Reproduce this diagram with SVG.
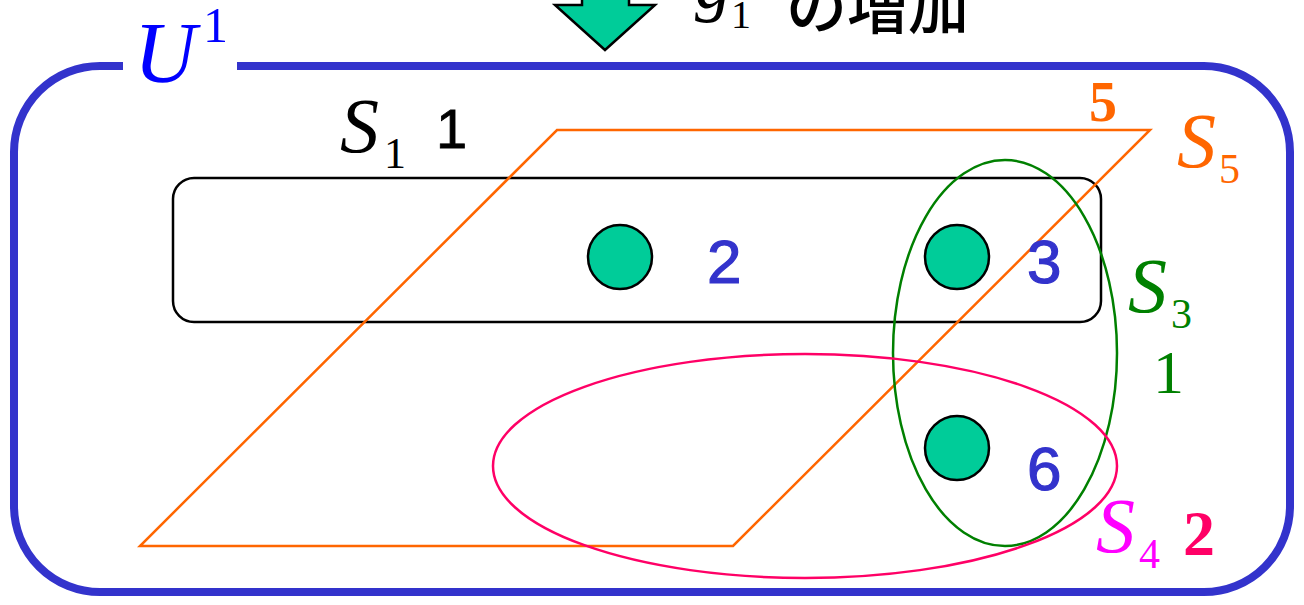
<svg xmlns="http://www.w3.org/2000/svg" width="1304" height="605" viewBox="0 0 1304 605">
<style>
.m{font-family:"Liberation Serif","DejaVu Serif",serif;font-style:italic}
.r{font-family:"Liberation Serif","DejaVu Serif",serif}
.s{font-family:"Liberation Sans",Arial,sans-serif}
.dot{fill:#00cc99;stroke:#000;stroke-width:2.5}
.num{font-family:"Liberation Sans",Arial,sans-serif;font-size:62px;fill:#3333cc;stroke:#3333cc;stroke-width:1.2}
</style>
<rect width="1304" height="605" fill="#fff"/>
<g id="arrow">
<polygon points="582,-5 629,-5 629,5 655,5 605,50 555,5 582,5" fill="#00cc99" stroke="#000" stroke-width="2.5"/>
</g>
<g id="title">
<text class="m" x="695" y="8" font-size="72">g</text>
<text class="r" x="731" y="28" font-size="40">1</text>
<text x="786" y="29" font-size="61" font-weight="500" font-family="'Noto Sans CJK JP','Noto Sans CJK SC',sans-serif" fill="#000">の増加</text>
</g>
<g id="U">
<path d="M123,66 H100 A86,86 0 0 0 14,152 V506 A86,86 0 0 0 100,592 H1204 A86,86 0 0 0 1290,506 V152 A86,86 0 0 0 1204,66 H237" fill="none" stroke="#3333cc" stroke-width="8"/>
<text class="m" x="134" y="82" font-size="86" fill="#0000ff">U</text>
<text class="r" x="203" y="42" font-size="50" fill="#0000ff">1</text>
</g>
<g id="S1">
<rect x="173" y="178" width="928" height="144" rx="21" fill="none" stroke="#000" stroke-width="2.5"/>
<text class="m" x="340" y="152" font-size="78" fill="#000">S</text>
<text class="r" x="384" y="168" font-size="44" fill="#000">1</text>
<text class="s" x="436" y="148" font-size="56" fill="#000" stroke="#000" stroke-width="0.8">1</text>
</g>
<g id="S5">
<polygon points="557,130 1150,130 733,546 140,546" fill="none" stroke="#ff6600" stroke-width="2.5"/>
<text class="r" x="1089" y="121" font-size="56" font-weight="bold" fill="#ff6600">5</text>
<text class="m" x="1177" y="167" font-size="78" fill="#ff6600">S</text>
<text class="r" x="1219" y="183" font-size="42" fill="#ff6600">5</text>
</g>
<g id="S3">
<ellipse cx="1005" cy="353" rx="112" ry="193" fill="none" stroke="#008000" stroke-width="2.5"/>
<text class="m" x="1128" y="312" font-size="78" fill="#008000">S</text>
<text class="r" x="1171" y="328" font-size="42" fill="#008000">3</text>
<text class="r" x="1153" y="393" font-size="62" fill="#008000">1</text>
</g>
<g id="S4">
<ellipse cx="805" cy="466" rx="312" ry="112" fill="none" stroke="#ff0066" stroke-width="2.5"/>
<text class="m" x="1096" y="552" font-size="78" fill="#ff00ff">S</text>
<text class="r" x="1139" y="568" font-size="42" fill="#ff00ff">4</text>
<text class="r" x="1183" y="555" font-size="64" font-weight="bold" fill="#ff0066">2</text>
</g>
<g id="n2">
<circle class="dot" cx="620" cy="257" r="32"/>
<text class="num" x="707" y="283">2</text>
</g>
<g id="n3">
<circle class="dot" cx="957" cy="257" r="32"/>
<text class="num" x="1027" y="283">3</text>
</g>
<g id="n6">
<circle class="dot" cx="957" cy="448" r="32"/>
<text class="num" x="1027" y="490">6</text>
</g>
</svg>
